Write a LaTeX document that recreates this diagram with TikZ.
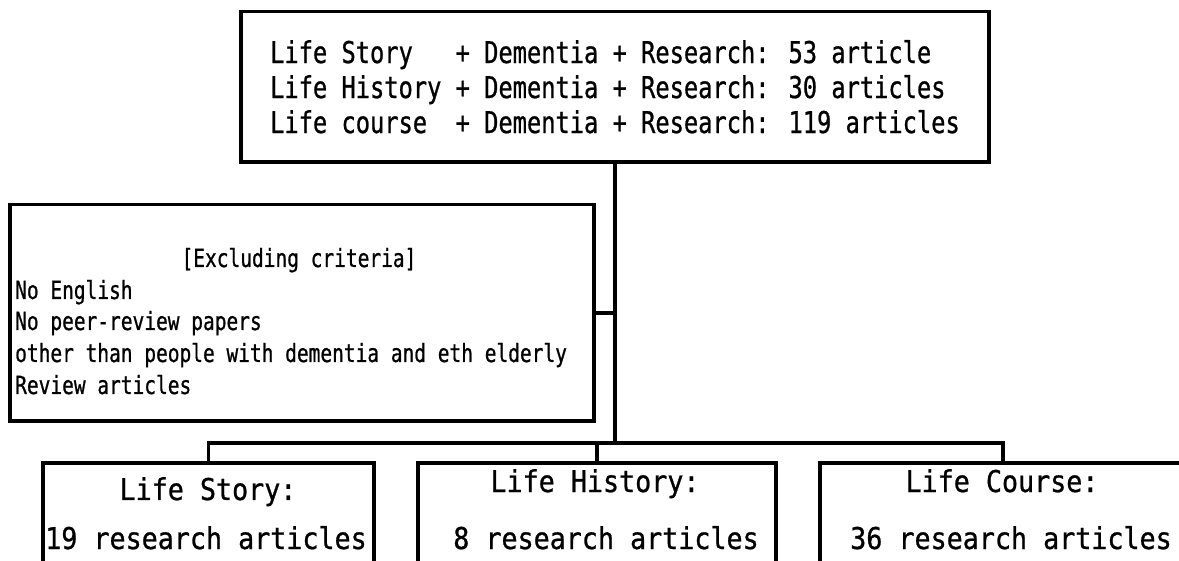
\documentclass[tikz,border=0pt]{standalone}
\usepackage{fontspec}
\newfontfamily\topfont[FakeStretch=0.79,FakeBold=0.8]{DejaVu Sans Mono}
\newfontfamily\exfont[FakeStretch=0.78,FakeBold=0.8]{DejaVu Sans Mono}
\newfontfamily\botfont[FakeStretch=0.89,FakeBold=0.8]{DejaVu Sans Mono}
\begin{document}
\begin{tikzpicture}[x=1pt,y=-1pt,
  box/.style={draw, line width=3.6pt, inner sep=0pt},
  conn/.style={line width=3.6pt},
  toptxt/.style={font=\topfont\fontsize{30}{35}\selectfont},
  extxt/.style={font=\exfont\fontsize{25}{31}\selectfont, inner sep=0pt},
  bottxt/.style={font=\botfont\fontsize{30}{36}\selectfont, inner sep=0pt, anchor=base}]
\useasboundingbox (0,0) rectangle (1179,561);
\clip (0,0) rectangle (1179,561);
\fill[white] (0,0) rectangle (1179,561);

% top box
\node[box, toptxt, minimum width=748pt, minimum height=150.5pt, align=left] (top) at (615,86.75)
 {Life Story~~~+ Dementia + Research: 53 article\\Life History + Dementia + Research: 30 articles\\Life course~~+ Dementia + Research: 119 articles};

% exclusion box
\node[box, minimum width=584pt, minimum height=216.5pt] (excl) at (302,312.75) {};
\node[extxt, anchor=base] (ex0) at (299,267) {[Excluding criteria]};
\node[extxt, anchor=base west] (ex1) at (15,299) {No English};
\node[extxt, anchor=base west] (ex2) at (15,330) {No peer-review papers};
\node[extxt, anchor=base west] (ex3) at (15,362) {other than people with dementia and eth elderly};
\node[extxt, anchor=base west] (ex4) at (15,394) {Review articles};

% bottom boxes
\node[box, minimum width=331pt, minimum height=140pt] (b1) at (208.5,533) {};
\node[box, minimum width=358pt, minimum height=140pt] (b2) at (597,533) {};
\node[box, minimum width=366pt, minimum height=140pt] (b3) at (1003,533) {};

\node[bottxt] (t1) at (208,500) {Life Story:};
\node[bottxt] (c1) at (206,549) {19 research articles};
\node[bottxt] (t2) at (595,492) {Life History:};
\node[bottxt] (c2) at (606,549) {8 research articles};
\node[bottxt] (t3) at (1002,492) {Life Course:};
\node[bottxt] (c3) at (1011,549) {36 research articles};

% connectors
\coordinate (bar) at (615,443);
\draw[conn] (top.south) -- (bar);
\draw[conn] (excl.east) -- (excl.east -| top.south);
\draw[conn] (b1.north) |- (bar);
\draw[conn] (b3.north) |- (bar);
\draw[conn] (b2.north) -- (b2.north |- bar);
\end{tikzpicture}
\end{document}
